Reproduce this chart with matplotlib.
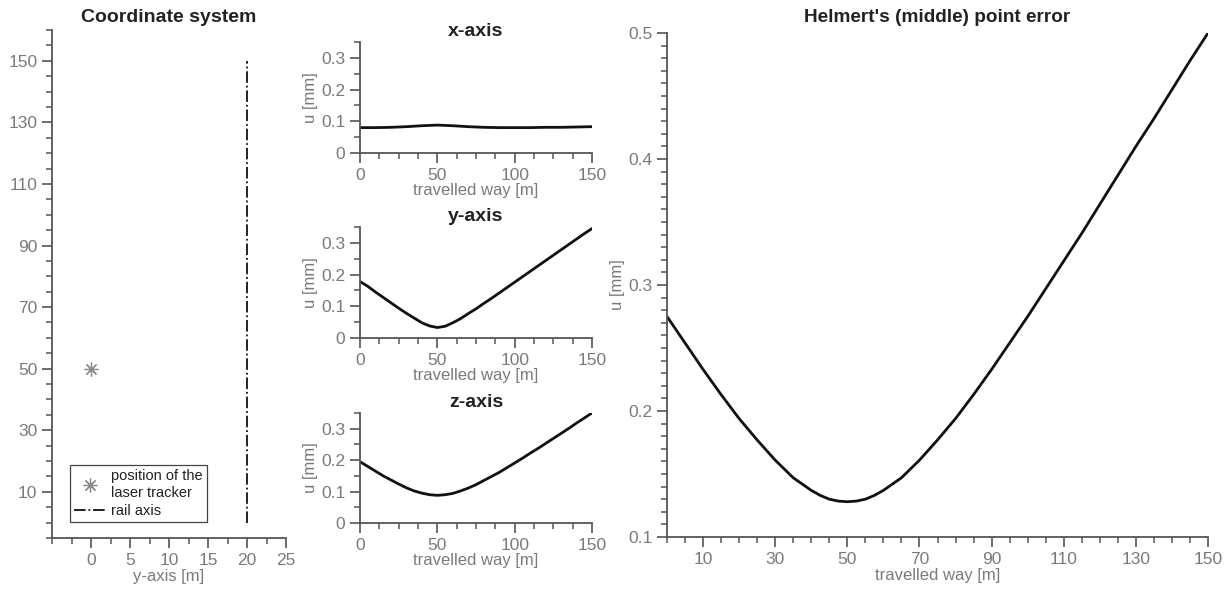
import numpy as np
import matplotlib.pyplot as plt
from matplotlib.ticker import MultipleLocator, FixedLocator

plt.rcParams['font.family'] = ['Liberation Sans', 'DejaVu Sans']

# data
tracker_pos = [0]
tracker_way = [50]
rail_pos = [20, 20]
rail_way = [0, 150]

way = [0, 5, 10, 15, 20, 25, 30, 35, 40, 45, 50, 55, 60, 65, 70, 75, 80, 85, 90, 95, 100,
       105, 110, 115, 120, 125, 130, 135, 140, 145, 150]
u_x = [0.080, 0.080, 0.080, 0.0805, 0.081, 0.082, 0.083, 0.0845, 0.086, 0.087, 0.088,
       0.087, 0.086, 0.0845, 0.083, 0.082, 0.081, 0.0805, 0.080, 0.080, 0.080,
       0.080, 0.080, 0.0805, 0.081, 0.081, 0.081, 0.0815, 0.082, 0.0825, 0.083]
u_y = [0.178, 0.163, 0.145, 0.128, 0.111, 0.094, 0.078, 0.063, 0.048, 0.038, 0.033,
       0.037, 0.048, 0.061, 0.077, 0.092, 0.109, 0.125, 0.142, 0.159, 0.176,
       0.193, 0.210, 0.227, 0.244, 0.261, 0.278, 0.295, 0.312, 0.329, 0.345]
u_z = [0.195, 0.180, 0.165, 0.150, 0.137, 0.124, 0.112, 0.102, 0.095, 0.090, 0.088,
       0.090, 0.094, 0.102, 0.111, 0.122, 0.135, 0.148, 0.161, 0.176, 0.191,
       0.206, 0.222, 0.237, 0.253, 0.269, 0.285, 0.301, 0.318, 0.334, 0.350]

way_h = [0, 5, 10, 15, 20, 25, 30, 32.5, 35, 37.5, 40, 42.5, 45, 47.5, 50, 52.5, 55, 57.5,
         60, 62.5, 65, 67.5, 70, 75, 80, 85, 90, 95, 100,
         105, 110, 115, 120, 125, 130, 135, 140, 145, 150]
u_helmert = [0.275, 0.254, 0.233, 0.213, 0.194, 0.177, 0.161, 0.154, 0.147, 0.142, 0.137,
             0.133, 0.130, 0.1285, 0.128, 0.1285, 0.130, 0.133, 0.137, 0.142, 0.147, 0.154,
             0.161, 0.177, 0.194, 0.213, 0.233, 0.254, 0.275,
             0.297, 0.319, 0.341, 0.364, 0.387, 0.410, 0.432, 0.455, 0.478, 0.500]

TICK = '#7a7a7a'
SPINE = '#555555'
TXT = '#222222'
LINE = '#111111'


def style(ax):
    for s in ['top', 'right']:
        ax.spines[s].set_visible(False)
    for s in ['left', 'bottom']:
        ax.spines[s].set_color(SPINE)
        ax.spines[s].set_linewidth(1.3)
    ax.tick_params(which='major', direction='out', length=7, width=1.2, color=SPINE,
                   labelcolor=TICK, labelsize=12.5)
    ax.tick_params(which='minor', direction='out', length=4, width=1.1, color=SPINE)


fig = plt.figure(figsize=(12.31, 5.96), dpi=100)
W, H = 1231, 596


def add(x0, y0, x1, y1):
    return fig.add_axes([x0 / W, 1 - y1 / H, (x1 - x0) / W, (y1 - y0) / H])


# coordinate system
ax0 = add(52, 30, 286, 538)
style(ax0)
ax0.plot(tracker_pos, tracker_way, linestyle='none', marker=(8, 2, 0), markersize=10,
         color='#8c8c8c', markeredgewidth=0.9, label='position of the\nlaser tracker')
ax0.plot(rail_pos, rail_way, color=LINE, linestyle='-.', linewidth=1.3, label='rail axis')
ax0.set_xlim(-5, 25)
ax0.set_ylim(-5, 160)
ax0.xaxis.set_major_locator(FixedLocator([0, 5, 10, 15, 20, 25]))
ax0.xaxis.set_minor_locator(MultipleLocator(2.5))
ax0.yaxis.set_major_locator(FixedLocator([10, 30, 50, 70, 90, 110, 130, 150]))
ax0.yaxis.set_minor_locator(MultipleLocator(5))
ax0.set_xlabel('y-axis [m]', color=TICK, fontsize=12, labelpad=1)
ax0.set_title('Coordinate system', fontweight='bold', color=TXT, fontsize=14, pad=6)
leg = ax0.legend(loc='lower left', bbox_to_anchor=(0.077, 0.031), borderaxespad=0,
                 fontsize=10.5, fancybox=False, framealpha=1, edgecolor='#444444',
                 handlelength=2.2, handletextpad=0.3, borderpad=0.3, labelspacing=0.3)
leg.get_frame().set_linewidth(0.9)
for t in leg.get_texts():
    t.set_color(TXT)

# per-axis errors
mids = [(42, 153, 'x-axis', u_x), (227, 338, 'y-axis', u_y), (413, 523, 'z-axis', u_z)]
for y0, y1, name, vals in mids:
    ax = add(360, y0, 592, y1)
    style(ax)
    ax.plot(way, vals, color=LINE, linewidth=2)
    ax.set_xlim(0, 150)
    ax.set_ylim(0, 0.35)
    ax.xaxis.set_major_locator(FixedLocator([0, 50, 100, 150]))
    ax.xaxis.set_minor_locator(MultipleLocator(12.5))
    ax.yaxis.set_major_locator(FixedLocator([0, 0.1, 0.2, 0.3]))
    ax.yaxis.set_minor_locator(MultipleLocator(0.05))
    ax.set_yticklabels(['0', '0.1', '0.2', '0.3'])
    ax.set_xlabel('travelled way [m]', color=TICK, fontsize=12, labelpad=0)
    ax.set_ylabel('u [mm]', color=TICK, fontsize=12, labelpad=2)
    ax.set_title(name, fontweight='bold', color=TXT, fontsize=14, pad=4)

# Helmert point error
ax3 = add(667, 33, 1208, 537)
style(ax3)
ax3.plot(way_h, u_helmert, color=LINE, linewidth=2)
ax3.set_xlim(0, 150)
ax3.set_ylim(0.1, 0.5)
ax3.xaxis.set_major_locator(FixedLocator([10, 30, 50, 70, 90, 110, 130, 150]))
ax3.xaxis.set_minor_locator(MultipleLocator(5))
ax3.yaxis.set_major_locator(FixedLocator([0.1, 0.2, 0.3, 0.4, 0.5]))
ax3.yaxis.set_minor_locator(MultipleLocator(0.01))
ax3.set_yticklabels(['0.1', '0.2', '0.3', '0.4', '0.5'])
ax3.set_xlabel('travelled way [m]', color=TICK, fontsize=12, labelpad=1)
ax3.set_ylabel('u [mm]', color=TICK, fontsize=12, labelpad=2)
ax3.set_title("Helmert's (middle) point error", fontweight='bold', color=TXT, fontsize=13.7, pad=8)

fig.savefig('out.png', dpi=100)
